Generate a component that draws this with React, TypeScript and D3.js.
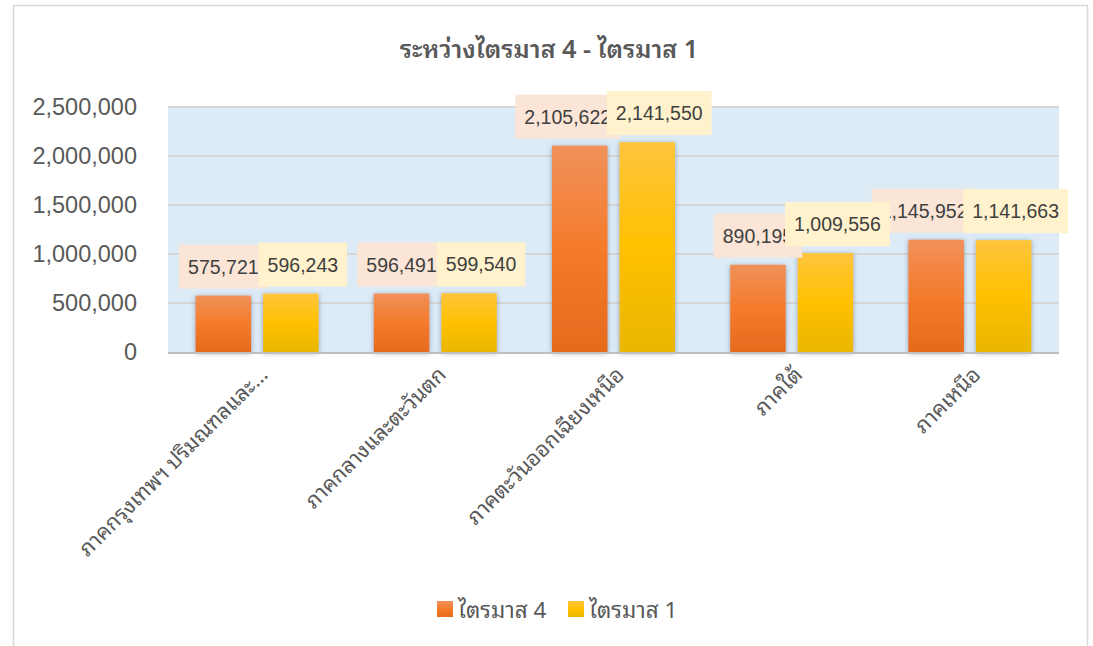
import React, { useEffect, useRef } from "react";
import * as d3 from "d3";

const categories = [
  "ภาคกรุงเทพฯ ปริมณฑลและ…",
  "ภาคกลางและตะวันตก",
  "ภาคตะวันออกเฉียงเหนือ",
  "ภาคใต้",
  "ภาคเหนือ",
];
const seriesNames = ["ไตรมาส 4", "ไตรมาส 1"];
const q4Values = [575721, 596491, 2105622, 890195, 1145952];
const q1Values = [596243, 599540, 2141550, 1009556, 1141663];
const yTicks = [0, 500000, 1000000, 1500000, 2000000, 2500000];
const title = "ระหว่างไตรมาส 4 - ไตรมาส 1";

const W = 1093;
const H = 646;
const THAI = "'Noto Sans Thai Looped', 'Leelawadee UI', Tahoma, Loma, Garuda, 'Noto Sans Thai', 'Noto Sans', sans-serif";
const NUM = "'Liberation Sans', Arial, sans-serif";

export default function App() {
  const ref = useRef<SVGSVGElement | null>(null);

  useEffect(() => {
    const svg = d3.select(ref.current);
    svg.selectAll("*").remove();

    const plot = { left: 168, right: 1059, top: 107, bottom: 352 };
    const series = [q4Values, q1Values];
    const fills = ["url(#gOrange)", "url(#gYellow)"];
    const boxFills = ["#FBE5D6", "#FFF2CC"];

    const defs = svg.append("defs");
    const mkGrad = (id: string, stops: [number, string][]) => {
      const g = defs.append("linearGradient").attr("id", id).attr("x1", 0).attr("y1", 0).attr("x2", 0).attr("y2", 1);
      stops.forEach(([o, c]) => g.append("stop").attr("offset", o).attr("stop-color", c));
    };
    mkGrad("gOrange", [[0, "#F0915A"], [0.5, "#F47B2B"], [1, "#E56B1D"]]);
    mkGrad("gYellow", [[0, "#FFC53D"], [0.5, "#FFC000"], [1, "#E9B700"]]);
    const f = defs.append("filter").attr("id", "shadow").attr("x", "-30%").attr("y", "-10%").attr("width", "160%").attr("height", "130%");
    f.append("feDropShadow").attr("dx", 0).attr("dy", 1).attr("stdDeviation", 2.5)
      .attr("flood-color", "#4a5a70").attr("flood-opacity", 0.55);

    svg.append("rect").attr("x", 0).attr("y", 0).attr("width", W).attr("height", H).attr("fill", "#fff");
    svg.append("rect").attr("x", 13.5).attr("y", 5.5).attr("width", 1074).attr("height", 700)
      .attr("fill", "#fff").attr("stroke", "#D9D9D9").attr("stroke-width", 1.5);

    svg.append("text").attr("x", 549).attr("y", 58).attr("text-anchor", "middle")
      .attr("font-family", THAI).attr("font-size", 25).attr("font-weight", 600).attr("fill", "#595959")
      .text(title);

    const x0 = d3.scaleBand<string>().domain(categories).range([plot.left, plot.right]).paddingInner(0).paddingOuter(0);
    const y = d3.scaleLinear().domain([0, 2500000]).range([plot.bottom, plot.top]);
    const bw = 55.5;
    const gap = 12;

    svg.append("rect").attr("x", plot.left).attr("y", plot.top).attr("width", plot.right - plot.left)
      .attr("height", plot.bottom - plot.top).attr("fill", "#DDEBF7");

    svg.append("g").selectAll("line").data(yTicks.slice(1)).join("line")
      .attr("x1", plot.left).attr("x2", plot.right)
      .attr("y1", (d) => y(d)).attr("y2", (d) => y(d))
      .attr("stroke", "#D6D6D6").attr("stroke-width", 2);

    const fmt = d3.format(",");
    svg.append("g").selectAll("text").data(yTicks).join("text")
      .attr("x", 137).attr("y", (d) => y(d) + 8).attr("text-anchor", "end")
      .attr("font-family", NUM).attr("font-size", 23.5).attr("fill", "#595959")
      .text((d) => fmt(d));

    const barX = (i: number, s: number) => {
      const c = (x0(categories[i]) as number) + x0.bandwidth() / 2;
      return s === 0 ? c - gap / 2 - bw : c + gap / 2;
    };

    const bars = svg.append("g");
    series.forEach((vals, s) => {
      bars.selectAll(`rect.s${s}`).data(vals).join("rect").attr("class", `s${s}`)
        .attr("x", (_, i) => barX(i, s)).attr("width", bw)
        .attr("y", (d) => y(d)).attr("height", (d) => plot.bottom - y(d))
        .attr("fill", fills[s]).attr("filter", "url(#shadow)");
    });

    svg.append("line").attr("x1", plot.left).attr("x2", plot.right).attr("y1", plot.bottom + 1).attr("y2", plot.bottom + 1)
      .attr("stroke", "#BFBFBF").attr("stroke-width", 2);

    // data labels
    const LFS = 19.5;
    const labelG = svg.append("g");
    const measure = labelG.append("text").attr("font-family", NUM).attr("font-size", LFS);
    const tw = (t: string) => { measure.text(t); return (measure.node() as SVGTextElement).getComputedTextLength(); };
    const pad = 9;
    const boxH = 44;
    type Box = { x: number; w: number; top: number; text: string };
    const boxes: Box[][] = [[], []];
    categories.forEach((_, i) => {
      const b: Box[] = [0, 1].map((s) => {
        const v = series[s][i];
        const text = fmt(v);
        const w = tw(text) + 2 * pad;
        const cx = barX(i, s) + bw / 2;
        return { x: cx - w / 2, w, top: y(v) - 7 - boxH, text };
      });
      const overlap = b[0].x + b[0].w - b[1].x;
      if (overlap > 0) {
        b[1].x += 12;
        if (overlap > 30) b[0].x -= 12;
      }
      boxes[0].push(b[0]);
      boxes[1].push(b[1]);
    });
    measure.remove();
    [0, 1].forEach((s) => {
      boxes[s].forEach((b) => {
        labelG.append("rect").attr("x", b.x).attr("y", b.top).attr("width", b.w).attr("height", boxH).attr("fill", boxFills[s]);
        labelG.append("text").attr("x", b.x + pad).attr("y", b.top + boxH / 2 + 7)
          .attr("font-family", NUM).attr("font-size", LFS).attr("fill", "#404040").text(b.text);
      });
    });

    // x labels
    svg.append("g").selectAll("text").data(categories).join("text")
      .attr("transform", (d) => {
        const cx = (x0(d) as number) + x0.bandwidth() / 2 + 12;
        return `translate(${cx},${plot.bottom + 24}) rotate(-45)`;
      })
      .attr("text-anchor", "end").attr("font-family", THAI).attr("font-size", 21.5).attr("fill", "#595959")
      .text((d) => d);

    // legend
    const leg = svg.append("g");
    const legX = [437, 568];
    seriesNames.forEach((n, s) => {
      leg.append("rect").attr("x", legX[s]).attr("y", 601).attr("width", 16).attr("height", 16).attr("fill", fills[s]);
      leg.append("text").attr("x", legX[s] + 21).attr("y", 618).attr("font-family", THAI).attr("font-size", 22.5)
        .attr("fill", "#595959").text(n);
    });
  }, []);

  return <svg ref={ref} width={W} height={H} style={{ display: "block", position: "absolute", left: 0, top: 0 }} />;
}
